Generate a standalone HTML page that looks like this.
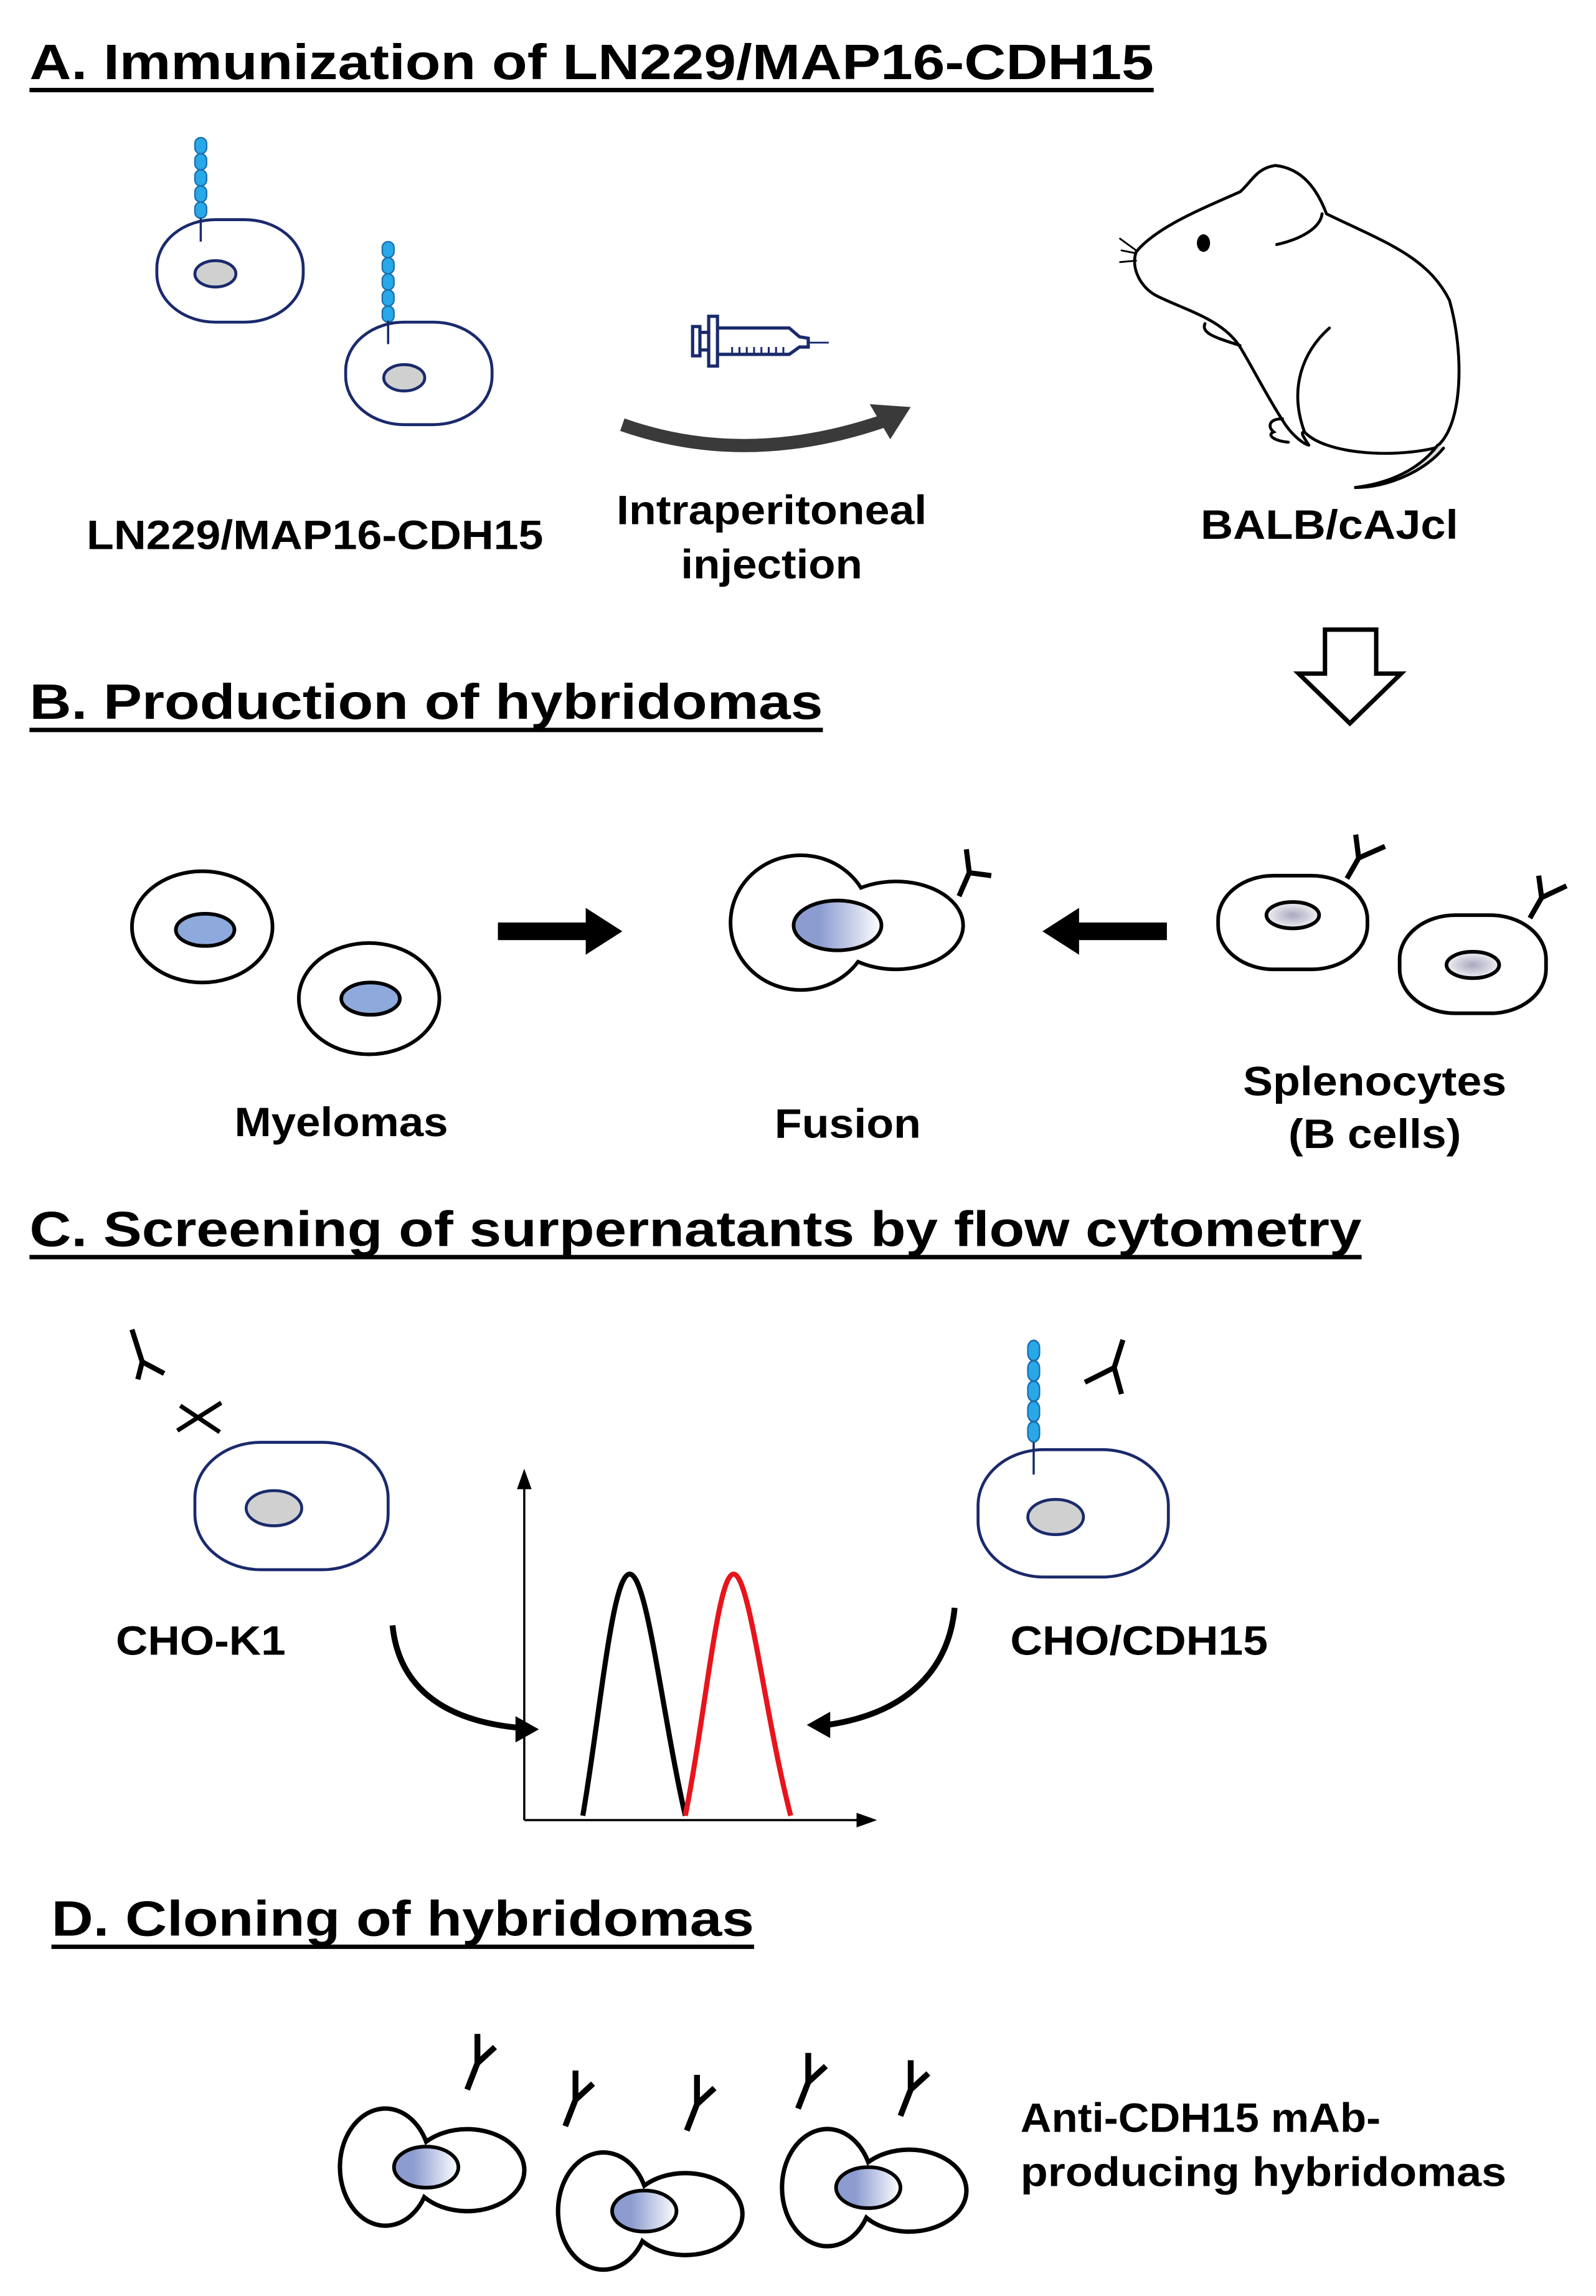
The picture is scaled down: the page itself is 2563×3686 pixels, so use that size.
<!DOCTYPE html>
<html><head><meta charset="utf-8"><style>html,body{margin:0;padding:0;background:#fff}svg{display:block}</style></head>
<body>
<svg width="2563" height="3686" viewBox="0 0 1090 1568" xmlns="http://www.w3.org/2000/svg" font-family="'Liberation Sans', Arial, sans-serif" font-weight="bold">
<defs>
<linearGradient id="nb" x1="0" x2="1"><stop offset="0.3" stop-color="#8c9cd0"/><stop offset="1" stop-color="#ffffff"/></linearGradient>
<radialGradient id="ng"><stop offset="0" stop-color="#a8a8c0"/><stop offset="1" stop-color="#f0f0f4"/></radialGradient>
<g id="chain"><rect x="-4" y="0" width="8" height="11" rx="4" fill="#29a8e8" stroke="#1a6fb0" stroke-width="1"/><rect x="-4" y="11" width="8" height="11" rx="4" fill="#29a8e8" stroke="#1a6fb0" stroke-width="1"/><rect x="-4" y="22" width="8" height="11" rx="4" fill="#29a8e8" stroke="#1a6fb0" stroke-width="1"/><rect x="-4" y="33" width="8" height="11" rx="4" fill="#29a8e8" stroke="#1a6fb0" stroke-width="1"/><rect x="-4" y="44" width="8" height="11" rx="4" fill="#29a8e8" stroke="#1a6fb0" stroke-width="1"/></g>
<path id="ab" d="M0,-18 L0,2 L-7,20 M0,2 L12,-9" fill="none" stroke="#000" stroke-width="4"/>
<g id="hyb">
<path d="M28,-17.4 A31,40 0 1,0 26.7,20.5 A39,28 0 1,0 28,-17.4 Z" fill="#fff" stroke="#000" stroke-width="3"/>
<ellipse cx="28" cy="0" rx="22" ry="14" fill="url(#nb)" stroke="#000" stroke-width="2.5"/>
</g>
</defs>

<!-- A -->
<text x="20" y="54" font-size="34" textLength="768" lengthAdjust="spacingAndGlyphs">A. Immunization of LN229/MAP16-CDH15</text>
<rect x="20" y="60" width="768" height="3" fill="#000"/>

<use href="#chain" x="137" y="94"/>
<rect x="107" y="150" width="100" height="70" rx="40" ry="33" fill="#fff" stroke="#1a2a6c" stroke-width="2"/>
<line x1="137" y1="149" x2="137" y2="165" stroke="#1a2a6c" stroke-width="1.5"/>
<ellipse cx="147" cy="187" rx="14" ry="9" fill="#d0d0d0" stroke="#1a2a6c" stroke-width="2"/>
<use href="#chain" x="265" y="165"/>
<rect x="236" y="220" width="100" height="70" rx="40" ry="33" fill="#fff" stroke="#1a2a6c" stroke-width="2"/>
<line x1="265" y1="219" x2="265" y2="235" stroke="#1a2a6c" stroke-width="1.5"/>
<ellipse cx="276" cy="258" rx="14" ry="9" fill="#d0d0d0" stroke="#1a2a6c" stroke-width="2"/>

<!-- syringe -->
<g stroke="#1a2a6c" stroke-width="2.2" fill="none">
<rect x="473" y="223" width="5" height="20"/>
<line x1="478" y1="227" x2="484" y2="227"/><line x1="478" y1="239" x2="484" y2="239"/>
<rect x="484" y="216" width="6" height="34"/>
<path d="M490,224 L539,224 L546,230 L552,231 L552,237 L546,237 L539,242 L490,242"/>
<line x1="552" y1="234" x2="566" y2="234" stroke-width="1.2"/>
<path d="M500,242v-5M505,242v-5M510,242v-5M515,242v-5M520,242v-5M525,242v-5M530,242v-5M535,242v-5" stroke-width="1.3"/>
</g>
<path d="M425,290 Q510,320 605,287" fill="none" stroke="#3a3a3a" stroke-width="9"/>
<path d="M594,276 L622,278 L608,300 Z" fill="#3a3a3a"/>

<text x="215" y="375" font-size="28" text-anchor="middle" textLength="312" lengthAdjust="spacingAndGlyphs">LN229/MAP16-CDH15</text>
<text x="527" y="358" font-size="28" text-anchor="middle" textLength="212" lengthAdjust="spacingAndGlyphs">Intraperitoneal</text>
<text x="527" y="395" font-size="28" text-anchor="middle" textLength="124" lengthAdjust="spacingAndGlyphs">injection</text>
<text x="908" y="368" font-size="28" text-anchor="middle" textLength="176" lengthAdjust="spacingAndGlyphs">BALB/cAJcl</text>

<!-- mouse -->
<g fill="none" stroke="#000" stroke-width="2" stroke-linecap="round">
<path d="M894,304 C890,298 888,295 891,295 C905,310 950,313 980,306 C1000,292 1000,240 990,205 C975,175 945,165 906,146 C900,130 890,115 871,113 C858,115 855,124 847,131 C820,143 790,155 776,172 C772,184 780,197 790,202 C810,212 835,218 847,237 C855,250 865,270 876,287 C882,297 890,303 894,304"/>
<path d="M872,167 C890,163 902,155 903,146"/>
<path d="M908,224 C890,240 880,265 891,295"/>
<path d="M823,221 C820,228 832,231 847,236"/>
<path d="M876,286 C866,286 866,292 870,295 C865,297 870,301 880,302"/>
<path d="M982,304 C970,320 950,330 925,333 C950,333 975,320 986,306" fill="#ddd"/>
<path d="M765,163 L776,171 M766,171 L776,173 M765,179 L776,178" stroke-width="1.2"/>
</g>
<ellipse cx="822" cy="166" rx="4.5" ry="6" fill="#000"/>

<!-- hollow down arrow -->
<path d="M905,430 L940,430 L940,460 L957,460 L922,494 L887,460 L905,460 Z" fill="#fff" stroke="#000" stroke-width="3"/>

<!-- B -->
<text x="20" y="491" font-size="34" textLength="542" lengthAdjust="spacingAndGlyphs">B. Production of hybridomas</text>
<rect x="20" y="497" width="542" height="3" fill="#000"/>

<ellipse cx="138" cy="633" rx="48" ry="38" fill="#fff" stroke="#000" stroke-width="2.5"/>
<ellipse cx="140" cy="635" rx="20" ry="11" fill="#8ea9dc" stroke="#000" stroke-width="2.5"/>
<ellipse cx="252" cy="682" rx="48" ry="38" fill="#fff" stroke="#000" stroke-width="2.5"/>
<ellipse cx="253" cy="682" rx="20" ry="11" fill="#8ea9dc" stroke="#000" stroke-width="2.5"/>

<path d="M340,630 L400,630 L400,620 L425,636 L400,652 L400,642 L340,642 Z" fill="#000"/>
<path d="M797,630 L737,630 L737,620 L712,636 L737,652 L737,642 L797,642 Z" fill="#000"/>

<!-- fusion -->
<path d="M588,606.3 A48,46 0 1,0 586,656.8 A46,30 0 1,0 588,606.3 Z" fill="#fff" stroke="#000" stroke-width="2.5"/>
<ellipse cx="572" cy="632" rx="30" ry="17" fill="url(#nb)" stroke="#000" stroke-width="2.5"/>
<path d="M655,612 L662,596 L660,580 M662,596 L677,598" fill="none" stroke="#000" stroke-width="3.5"/>

<!-- splenocytes -->
<rect x="832" y="598" width="102" height="64" rx="38" ry="30" fill="#fff" stroke="#000" stroke-width="2.5"/>
<ellipse cx="883" cy="625" rx="18" ry="9" fill="url(#ng)" stroke="#000" stroke-width="2.5"/>
<path d="M920,600 L928,586 L926,570 M928,586 L946,578" fill="none" stroke="#000" stroke-width="3.5"/>
<rect x="956" y="625" width="100" height="67" rx="38" ry="30" fill="#fff" stroke="#000" stroke-width="2.5"/>
<ellipse cx="1006" cy="659" rx="18" ry="9" fill="url(#ng)" stroke="#000" stroke-width="2.5"/>
<path d="M1045,627 L1053,613 L1051,598 M1053,613 L1070,605" fill="none" stroke="#000" stroke-width="3.5"/>

<text x="233" y="776" font-size="28" text-anchor="middle" textLength="146" lengthAdjust="spacingAndGlyphs">Myelomas</text>
<text x="579" y="777" font-size="28" text-anchor="middle" textLength="100" lengthAdjust="spacingAndGlyphs">Fusion</text>
<text x="939" y="748" font-size="28" text-anchor="middle" textLength="180" lengthAdjust="spacingAndGlyphs">Splenocytes</text>
<text x="939" y="784" font-size="28" text-anchor="middle" textLength="118" lengthAdjust="spacingAndGlyphs">(B cells)</text>

<!-- C -->
<text x="20" y="851" font-size="34" textLength="910" lengthAdjust="spacingAndGlyphs">C. Screening of surpernatants by flow cytometry</text>
<rect x="20" y="857" width="910" height="3" fill="#000"/>

<path d="M90,908 L97,930 L94,942 M97,930 L112,938" fill="none" stroke="#000" stroke-width="3.5"/>
<path d="M121,977 L151,958 M123,960 L150,978" stroke="#000" stroke-width="3"/>
<rect x="133" y="985" width="132" height="87" rx="45" ry="38" fill="#fff" stroke="#1a2a6c" stroke-width="2"/>
<ellipse cx="187" cy="1030" rx="19" ry="12" fill="#d0d0d0" stroke="#1a2a6c" stroke-width="2"/>

<use href="#chain" x="706" y="917" transform="translate(0,-240) scale(1,1.26)" />
<rect x="668" y="990" width="130" height="87" rx="45" ry="38" fill="#fff" stroke="#1a2a6c" stroke-width="2"/>
<line x1="706" y1="985" x2="706" y2="1007" stroke="#1a2a6c" stroke-width="1.5"/>
<ellipse cx="721" cy="1036" rx="19" ry="12" fill="#d0d0d0" stroke="#1a2a6c" stroke-width="2"/>
<path d="M767,915 L761,934 L766,952 M761,934 L741,944" fill="none" stroke="#000" stroke-width="3.5"/>

<text x="137" y="1130" font-size="28" text-anchor="middle" textLength="116" lengthAdjust="spacingAndGlyphs">CHO-K1</text>
<text x="778" y="1130" font-size="28" text-anchor="middle" textLength="176" lengthAdjust="spacingAndGlyphs">CHO/CDH15</text>

<!-- plot -->
<line x1="358" y1="1243" x2="358" y2="1012" stroke="#000" stroke-width="1.5"/>
<path d="M358,1003 L353,1017 L363,1017 Z" fill="#000"/>
<line x1="358" y1="1243" x2="590" y2="1243" stroke="#000" stroke-width="1.5"/>
<path d="M599,1243 L585,1238 L585,1248 Z" fill="#000"/>
<path d="M398,1240 C410,1170 418,1075 430,1075 C442,1075 452,1170 468,1240" fill="none" stroke="#000" stroke-width="3.5"/>
<path d="M468,1240 C482,1170 490,1075 501,1075 C512,1075 522,1170 540,1240" fill="none" stroke="#e8141c" stroke-width="3.5"/>
<path d="M268,1110 C272,1150 300,1175 355,1180" fill="none" stroke="#000" stroke-width="4"/>
<path d="M368,1181 L352,1172 L352,1190 Z" fill="#000"/>
<path d="M652,1098 C648,1140 620,1170 565,1178" fill="none" stroke="#000" stroke-width="4"/>
<path d="M551,1178 L567,1169 L567,1187 Z" fill="#000"/>

<!-- D -->
<text x="35" y="1322" font-size="34" textLength="480" lengthAdjust="spacingAndGlyphs">D. Cloning of hybridomas</text>
<rect x="35" y="1328" width="480" height="3" fill="#000"/>

<use href="#hyb" x="263" y="1480"/>
<use href="#hyb" x="412" y="1510"/>
<use href="#hyb" x="565" y="1494"/>
<use href="#ab" x="326" y="1407"/>
<use href="#ab" x="393" y="1432"/>
<use href="#ab" x="476" y="1435"/>
<use href="#ab" x="552" y="1420"/>
<use href="#ab" x="622" y="1425"/>

<text x="697" y="1456" font-size="28" textLength="246" lengthAdjust="spacingAndGlyphs">Anti-CDH15 mAb-</text>
<text x="697" y="1493" font-size="28" textLength="332" lengthAdjust="spacingAndGlyphs">producing hybridomas</text>
</svg>
</body></html>
